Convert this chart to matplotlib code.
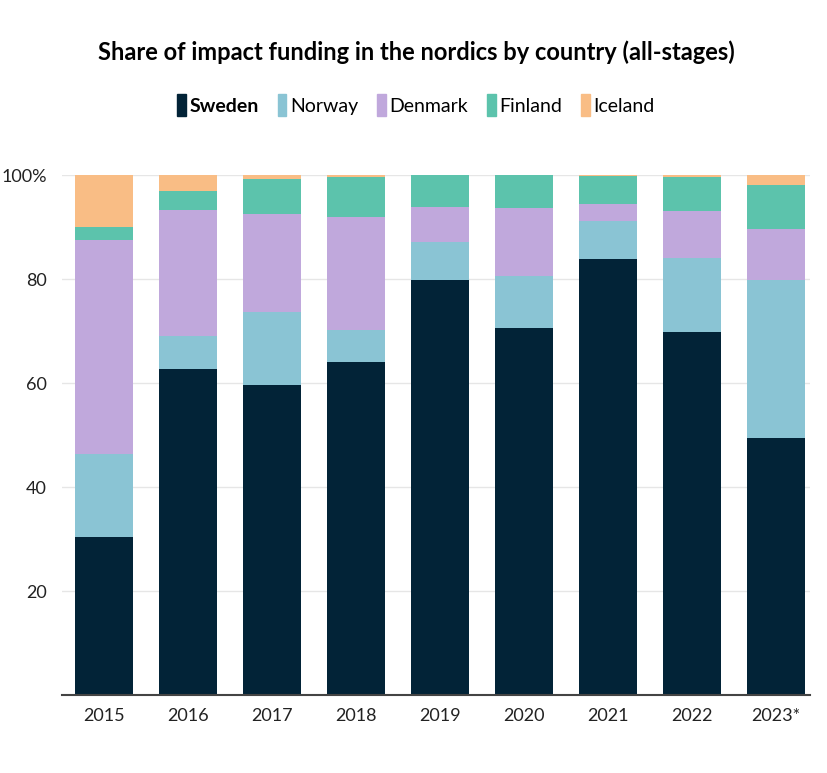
import matplotlib.pyplot as plt
from matplotlib.patches import Rectangle
from matplotlib.transforms import ScaledTranslation

plt.rcParams['font.family'] = ['Lato', 'DejaVu Sans']

years = ['2015', '2016', '2017', '2018', '2019', '2020', '2021', '2022', '2023*']
countries = ['Sweden', 'Norway', 'Denmark', 'Finland', 'Iceland']
sweden = [30.4, 62.7, 59.6, 64.0, 79.8, 70.6, 83.8, 69.8, 49.4]
norway = [15.9, 6.3, 14.1, 6.2, 7.3, 10.0, 7.4, 14.2, 30.4]
denmark = [41.2, 24.3, 18.8, 21.7, 6.7, 13.1, 3.2, 9.1, 9.8]
finland = [2.5, 3.6, 6.7, 7.7, 6.2, 6.3, 5.4, 6.5, 8.5]
iceland = [10.0, 3.1, 0.8, 0.4, 0.0, 0.0, 0.2, 0.4, 1.9]
colors = ['#022337', '#8ac4d4', '#c0a8dc', '#5cc3ac', '#f9bd85']

fig = plt.figure(figsize=(8.27, 7.73), dpi=100)
fig.patch.set_facecolor('white')
ax = fig.add_axes([0.075, 0.1009, 0.904, 0.6727])

x = range(len(years))
bottom = [0] * len(years)
for serie, col in zip([sweden, norway, denmark, finland, iceland], colors):
    ax.bar(x, serie, bottom=bottom, color=col, width=0.69, zorder=3)
    bottom = [b + s for b, s in zip(bottom, serie)]

ax.set_xlim(-0.5, 8.4)
ax.set_ylim(0, 100)
ax.set_yticks([20, 40, 60, 80, 100])
ax.set_yticklabels(['20', '40', '60', '80', '100%'], fontsize=13, color='#222222')
# % hangs out past the right edge of the numbers
lab = ax.get_yticklabels()[-1]
lab.set_transform(lab.get_transform() + ScaledTranslation(15 / 100, 0, fig.dpi_scale_trans))
ax.set_xticks(list(x))
ax.set_xticklabels(years, fontsize=13, color='#222222')
ax.tick_params(axis='x', length=0, pad=9)
ax.tick_params(axis='y', length=0, pad=11)
ax.grid(axis='y', color='#e6e6e6', linewidth=1, zorder=0)
for s in ['top', 'right', 'left']:
    ax.spines[s].set_visible(False)
ax.spines['bottom'].set_color('#444444')
ax.spines['bottom'].set_linewidth(1.5)
ax.spines['bottom'].set_zorder(4)

fig.text(0.503, 0.932, 'Share of impact funding in the nordics by country (all-stages)',
         ha='center', va='center', fontsize=17, fontweight='bold', color='black')

handles = [Rectangle((0, 0), 1, 1, color=c) for c in colors]
leg = fig.legend(handles, countries, loc='center', bbox_to_anchor=(0.503, 0.864), ncol=5,
                 frameon=False, fontsize=14, handlelength=0.45, handleheight=1.4,
                 handletextpad=0.2, columnspacing=0.95)
leg.get_texts()[0].set_fontweight('bold')

fig.savefig('out.png', dpi=100)
